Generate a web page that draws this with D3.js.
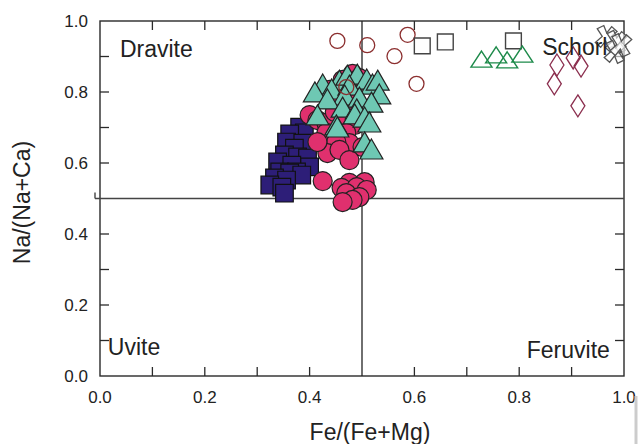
<!DOCTYPE html>
<html><head><meta charset="utf-8">
<script src="https://cdn.jsdelivr.net/npm/d3@7"></script>
<style>body{margin:0;background:#fff}svg{display:block}text{font-family:"Liberation Sans",Arial,sans-serif;fill:#222}</style>
</head><body><svg id="c" width="639" height="444"></svg>
<script>
// ---- data: [Fe/(Fe+Mg), Na/(Na+Ca)] ----
const navySquares = [[0.381,0.701],[0.390,0.685],[0.362,0.682],[0.356,0.659],[0.387,0.656],[0.371,0.642],[0.352,0.623],[0.377,0.617],[0.396,0.614],[0.339,0.603],[0.366,0.594],[0.400,0.589],[0.343,0.575],[0.375,0.575],[0.362,0.572],[0.385,0.566],[0.333,0.558],[0.356,0.552],[0.324,0.538],[0.347,0.532],[0.352,0.515]];
const pinkCircles = [[0.482,0.851],[0.463,0.834],[0.495,0.839],[0.438,0.806],[0.448,0.783],[0.476,0.777],[0.400,0.735],[0.415,0.721],[0.432,0.713],[0.448,0.744],[0.467,0.727],[0.486,0.707],[0.499,0.735],[0.432,0.685],[0.453,0.670],[0.470,0.685],[0.476,0.656],[0.501,0.645],[0.451,0.659],[0.434,0.628],[0.457,0.637],[0.476,0.608],[0.415,0.659],[0.425,0.549],[0.476,0.544],[0.505,0.546],[0.461,0.530],[0.490,0.532],[0.509,0.524],[0.470,0.515],[0.495,0.504],[0.482,0.496],[0.463,0.490]];
const tealTriangles = [[0.425,0.814],[0.457,0.825],[0.472,0.839],[0.491,0.842],[0.509,0.828],[0.520,0.814],[0.530,0.825],[0.442,0.800],[0.476,0.811],[0.410,0.792],[0.467,0.783],[0.495,0.777],[0.533,0.786],[0.434,0.772],[0.518,0.763],[0.463,0.749],[0.490,0.744],[0.415,0.727],[0.486,0.730],[0.505,0.721],[0.514,0.707],[0.451,0.699],[0.453,0.693],[0.505,0.651],[0.518,0.631]];
const openCircles = [[0.453,0.944],[0.510,0.932],[0.587,0.961],[0.562,0.901],[0.604,0.823],[0.470,0.814]];
const openSquares = [[0.615,0.930],[0.659,0.941],[0.789,0.944]];
const greenTriangles = [[0.728,0.887],[0.756,0.899],[0.777,0.885],[0.806,0.901]];
const diamonds = [[0.872,0.876],[0.867,0.823],[0.903,0.896],[0.918,0.873],[0.912,0.761]];
const crosses = [[0.966,0.955],[0.985,0.941],[0.983,0.913],[0.994,0.932]];
const xTicks = [0.0,0.2,0.4,0.6,0.8,1.0];
const yTicks = [0.0,0.2,0.4,0.6,0.8,1.0];
const minorTicks = [0.1,0.3,0.5,0.7,0.9];
const fieldLabels = [{t:"Dravite",x:0.038,y:0.899,a:"start"},{t:"Schorl",x:0.844,y:0.904,a:"start"},{t:"Uvite",x:0.015,y:0.059,a:"start"},{t:"Feruvite",x:0.973,y:0.051,a:"end"}];

const svg = d3.select("#c");
const L=100, R=624, T=21, B=376;
const x = d3.scaleLinear().domain([0,1]).range([L,R]);
const y = d3.scaleLinear().domain([0,1]).range([B,T]);
const sym = (type,size)=>d3.symbol().type(type).size(size)();

// frame
svg.append("rect").attr("x",L).attr("y",T).attr("width",R-L).attr("height",B-T).attr("fill","none").attr("stroke","#2a2a2a").attr("stroke-width",1.4);
// ticks (inward, all sides)
const allT = xTicks.concat(minorTicks).filter(v=>v>0&&v<1&&v!==0.5);
const tl=9;
const tg = svg.append("g").attr("stroke","#2a2a2a").attr("stroke-width",1.3);
allT.forEach(v=>{
  tg.append("line").attr("x1",x(v)).attr("x2",x(v)).attr("y1",B).attr("y2",B-tl);
  tg.append("line").attr("x1",x(v)).attr("x2",x(v)).attr("y1",T).attr("y2",T+tl);
  tg.append("line").attr("y1",y(v)).attr("y2",y(v)).attr("x1",L).attr("x2",L+tl);
  tg.append("line").attr("y1",y(v)).attr("y2",y(v)).attr("x1",R).attr("x2",R-tl);
});
// tick labels
svg.append("g").selectAll("text").data(xTicks).join("text")
  .attr("x",d=>x(d)).attr("y",B+27).attr("text-anchor","middle").attr("font-size",17).text(d=>d.toFixed(1));
svg.append("g").selectAll("text").data(yTicks).join("text")
  .attr("x",L-12).attr("y",d=>y(d)+6).attr("text-anchor","end").attr("font-size",17).text(d=>d.toFixed(1));
// titles
svg.append("text").attr("x",x(0.5)+8).attr("y",440).attr("text-anchor","middle").attr("font-size",23).text("Fe/(Fe+Mg)");
svg.append("text").attr("transform",`translate(30,${y(0.5)+4}) rotate(-90)`).attr("text-anchor","middle").attr("font-size",23).text("Na/(Na+Ca)");

// data marks
const g = svg.append("g");
g.selectAll(".sq").data(navySquares).join("path").attr("d",sym(d3.symbolSquare,310))
  .attr("transform",d=>`translate(${x(d[0])},${y(d[1])})`).attr("fill","#2d1e78").attr("stroke","#111").attr("stroke-width",1.2);
g.selectAll(".pc").data(pinkCircles).join("circle").attr("cx",d=>x(d[0])).attr("cy",d=>y(d[1])).attr("r",9.5)
  .attr("fill","#e0306e").attr("stroke","#222").attr("stroke-width",1.2);
const triPath = "M0,-13L11.5,7L-11.5,7Z";
g.selectAll(".tt").data(tealTriangles).join("path").attr("d",triPath)
  .attr("transform",d=>`translate(${x(d[0])},${y(d[1])})`).attr("fill","#6ec8b3").attr("stroke","#222").attr("stroke-width",1.2);

// reference lines
svg.append("line").attr("x1",x(0.5)).attr("x2",x(0.5)).attr("y1",T).attr("y2",B).attr("stroke","#222").attr("stroke-width",1.3);
svg.append("line").attr("x1",L-5).attr("x2",R).attr("y1",y(0.5)).attr("y2",y(0.5)).attr("stroke","#444").attr("stroke-width",1.4);
svg.append("line").attr("x1",L-5).attr("x2",L-5).attr("y1",y(0.5)-6).attr("y2",y(0.5)).attr("stroke","#444").attr("stroke-width",1.4);

g.raise();
svg.append("g").selectAll("circle").data(openCircles).join("circle").attr("cx",d=>x(d[0])).attr("cy",d=>y(d[1])).attr("r",7.5)
  .attr("fill","none").attr("stroke","#8b2e2e").attr("stroke-width",1.3);
svg.append("g").selectAll("path").data(openSquares).join("path").attr("d",sym(d3.symbolSquare,250))
  .attr("transform",d=>`translate(${x(d[0])},${y(d[1])})`).attr("fill","none").attr("stroke","#444").attr("stroke-width",1.4);
svg.append("g").selectAll("path").data(greenTriangles).join("path").attr("d","M0,-10L10.5,6L-10.5,6Z")
  .attr("transform",d=>`translate(${x(d[0])},${y(d[1])})`).attr("fill","none").attr("stroke","#1d8a4a").attr("stroke-width",1.4);
svg.append("g").selectAll("path").data(diamonds).join("path").attr("d","M0,-11L7,0L0,11L-7,0Z")
  .attr("transform",d=>`translate(${x(d[0])},${y(d[1])})`).attr("fill","none").attr("stroke","#8b2e4e").attr("stroke-width",1.3);
const crossP = "M-4,-11L0,-4L4,-11L10,-7L4,0L10,7L4,11L0,4L-4,11L-10,7L-4,0L-10,-7Z";
svg.append("g").selectAll("path").data(crosses).join("path").attr("d",crossP)
  .attr("transform",d=>`translate(${x(d[0])},${y(d[1])}) rotate(8)`).attr("fill","#fff").attr("fill-opacity",0.6).attr("stroke","#555").attr("stroke-width",1.3);

// field labels
svg.append("g").selectAll("text").data(fieldLabels).join("text")
  .attr("x",d=>x(d.x)).attr("y",d=>y(d.y)).attr("text-anchor",d=>d.a).attr("font-size",23).text(d=>d.t);
// scan artifact at right edge
svg.append("line").attr("x1",636).attr("x2",636).attr("y1",396).attr("y2",444).attr("stroke","#ccc").attr("stroke-width",3);
</script></body></html>
